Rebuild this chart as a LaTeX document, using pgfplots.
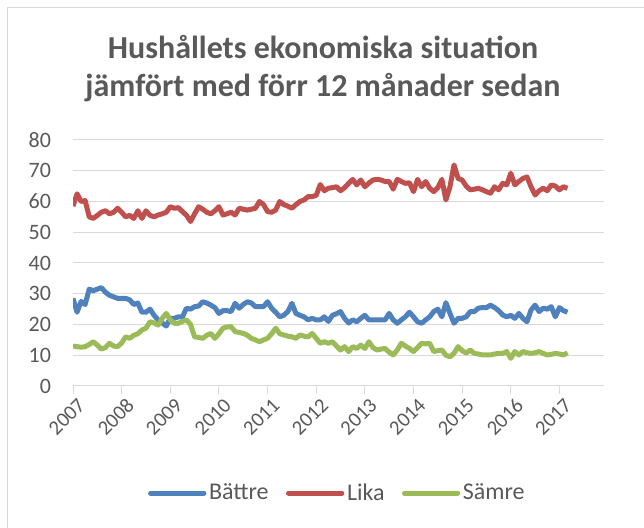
\documentclass[border=0pt]{standalone}
\usepackage{fontspec}
\setmainfont{Carlito}
\usepackage{pgfplots}
\usepackage{pgfplotstable}
\pgfplotsset{compat=1.18}
\definecolor{cblue}{HTML}{4F81BD}
\definecolor{cred}{HTML}{C0504D}
\definecolor{cgreen}{HTML}{9BBB59}
\definecolor{ctext}{HTML}{595959}
\definecolor{cgrid}{HTML}{D9D9D9}

% month index from Jan 2007 (m=0)
\pgfplotstableread{
m battre lika samre
0 28.5 58.5 13.0
1 24.0 62.5 12.8
2 27.5 60.0 12.6
3 26.5 60.3 12.8
4 31.5 55.0 13.5
5 31.0 54.5 14.4
6 31.5 55.5 13.3
7 32.0 56.5 12.0
8 30.5 57.0 12.5
9 29.5 56.0 13.9
10 29.0 56.5 13.0
11 28.5 57.8 12.8
12 28.5 56.5 14.0
13 28.5 55.0 16.0
14 28.0 55.5 15.5
15 26.5 54.5 16.5
16 27.0 57.0 17.0
17 24.0 54.5 18.2
18 24.0 57.0 18.8
19 25.0 55.5 20.9
20 23.0 55.0 20.5
21 21.5 55.6 19.8
22 20.5 56.0 22.0
23 19.5 56.5 23.6
24 22.0 58.3 21.5
25 22.0 57.8 20.4
26 22.5 58.0 20.4
27 22.5 56.7 21.0
28 25.3 55.5 21.5
29 25.0 53.5 20.0
30 25.8 56.0 16.0
31 26.0 58.3 15.8
32 27.4 57.5 15.5
33 27.0 56.5 16.5
34 26.3 56.0 17.1
35 25.5 57.0 15.5
36 23.6 58.3 17.0
37 24.5 55.6 18.8
38 24.5 56.0 19.2
39 24.2 56.5 19.3
40 26.9 55.6 17.7
41 25.3 57.8 17.4
42 26.5 57.5 17.1
43 27.4 57.2 16.5
44 27.0 57.5 15.5
45 25.8 57.8 15.0
46 25.8 60.0 14.4
47 25.8 59.0 15.0
48 27.4 56.7 15.5
49 25.3 56.5 17.0
50 24.0 57.2 18.8
51 22.5 60.0 17.0
52 23.0 59.0 16.6
53 24.2 58.5 16.2
54 26.9 57.8 16.0
55 23.6 59.0 15.5
56 23.0 60.0 16.6
57 22.5 60.5 16.2
58 21.5 61.6 16.0
59 22.0 61.6 17.1
60 21.5 62.0 15.5
61 21.5 65.5 13.9
62 22.5 63.5 14.4
63 21.0 64.3 13.9
64 23.0 64.5 14.4
65 23.5 64.8 13.0
66 24.2 63.5 11.7
67 22.0 64.5 12.8
68 20.5 65.9 11.2
69 21.5 67.2 12.8
70 20.9 65.4 12.2
71 22.0 67.0 13.3
72 23.0 64.8 12.2
73 21.5 66.0 14.4
74 21.5 67.0 12.5
75 21.5 67.2 11.7
76 21.5 67.0 12.0
77 21.5 66.5 12.2
78 23.6 66.5 11.0
79 21.5 64.0 10.1
80 20.4 67.2 11.7
81 21.5 66.5 13.9
82 22.5 65.9 13.0
83 24.0 66.1 12.2
84 22.5 63.2 11.2
85 20.9 67.2 12.5
86 20.4 64.8 13.9
87 21.5 66.5 13.7
88 22.5 64.3 13.9
89 24.2 63.2 11.2
90 25.0 64.5 11.5
91 22.5 67.2 11.7
92 27.1 60.5 10.0
93 23.6 64.8 9.5
94 20.4 71.9 10.6
95 22.0 67.5 12.8
96 22.0 67.0 11.5
97 22.5 65.0 10.7
98 24.2 63.8 11.7
99 24.2 64.0 10.6
100 25.3 64.3 10.4
101 25.5 63.8 10.1
102 25.5 63.2 10.1
103 26.3 62.7 10.1
104 25.5 64.8 10.4
105 24.5 63.8 10.6
106 23.1 65.9 10.6
107 22.5 65.4 11.2
108 23.0 69.2 9.0
109 22.0 65.4 11.2
110 23.6 66.5 10.1
111 22.0 67.5 11.2
112 20.9 68.0 10.8
113 24.7 64.8 10.6
114 26.3 62.1 10.8
115 24.2 63.5 11.2
116 25.3 64.3 10.6
117 25.0 63.5 10.1
118 25.8 65.4 10.3
119 22.5 65.0 10.6
120 25.5 63.8 10.4
121 24.5 64.8 10.1
122 24.0 64.3 10.8
}\data

\begin{document}
\begin{tikzpicture}[x=0.75pt,y=0.75pt]
\useasboundingbox (0,0) rectangle (644,528);
\draw[cgrid, line width=0.75pt] (7.5,-5) -- (7.5,520.5) -- (650,520.5);
\node[align=center, text=ctext, font=\fontsize{24}{28}\selectfont\bfseries]
  at (323,459.5) {Hushållets ekonomiska situation\\jämfört med förr 12 månader sedan};
\begin{axis}[
    at={(54.75pt,106.5pt)}, anchor=south west,
    scale only axis,
    width=398.25pt, height=184.5pt,
    xmin=0, xmax=131,
    ymin=0, ymax=80,
    ytick={0,10,...,80},
    xtick={0,12,...,120},
    xticklabels={2007,2008,2009,2010,2011,2012,2013,2014,2015,2016,2017},
    axis x line*=bottom,
    axis y line*=left,
    y axis line style={draw=none},
    x axis line style={cgrid, line width=0.75pt},
    ymajorgrids,
    grid style={cgrid, line width=0.75pt},
    tick align=outside,
    major tick length=6pt,
    xtick style={cgrid, line width=0.75pt},
    ytick style={draw=none},
    ticklabel style={font=\fontsize{16.5}{18}\selectfont, text=ctext},
    y tick label style={xshift=-7pt},
    x tick label style={rotate=45, anchor=north east, inner sep=0.5pt,
        xshift=1pt, yshift=-3pt, font=\fontsize{15.5}{17}\selectfont},
    /pgf/number format/assume math mode=true,
    legend style={at={(0.4985,-0.435)}, anchor=center, draw=none,
        font=\fontsize{18}{20}\selectfont, text=ctext,
        /tikz/every even column/.append style={column sep=11pt}},
    legend columns=3,
    legend image code/.code={\draw[#1, line cap=round] (0pt,0pt) -- (40pt,0pt);},
]
\addplot[cblue, line width=3.75pt, line join=round] table[x=m, y=battre]{\data};
\addplot[cred, line width=3.75pt, line join=round] table[x=m, y=lika]{\data};
\addplot[cgreen, line width=3.75pt, line join=round] table[x=m, y=samre]{\data};
\legend{Bättre, Lika, Sämre}
\end{axis}
\end{tikzpicture}
\end{document}
